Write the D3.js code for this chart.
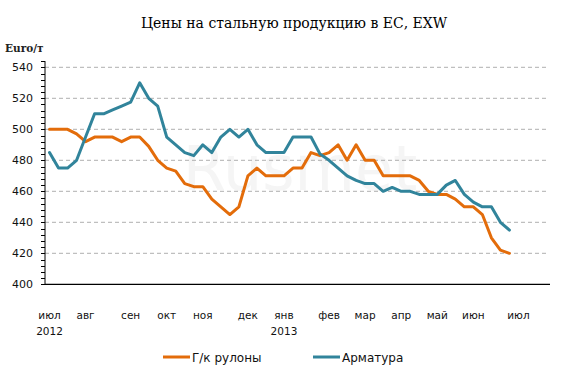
<!DOCTYPE html>
<html>
<head>
<meta charset="utf-8">
<script src="https://cdn.jsdelivr.net/npm/d3@7"></script>
<style>
  html, body { margin: 0; padding: 0; background: #fff; }
  svg { display: block; }
</style>
</head>
<body>
<svg id="chart" width="580" height="380"></svg>
<script>
// ---- Data ----
const title = "Цены на стальную продукцию в ЕС, EXW";
const unitLabel = "Euro/т";
const seriesNames = ["Г/к рулоны", "Арматура"];
// Weekly categories (56 slots), month labels at the first week of each month
const monthLabels = ["июл", "авг", "сен", "окт", "ноя", "дек", "янв", "фев", "мар", "апр", "май", "июн", "июл"];
const monthIndex = [0, 4, 9, 13, 17, 22, 26, 31, 35, 39, 43, 47, 52];
const yearLabels = ["2012", "2013"];
const yearIndex = [0, 26];
const categoryCount = 56;
const hotRolled = [500, 500, 500, 497, 492, 495, 495, 495, 492, 495, 495, 489, 480, 475, 473, 465, 463, 463, 455, 450,
                   445, 450, 470, 475, 470, 470, 470, 475, 475, 485, 483, 485, 490, 480, 490, 480, 480, 470, 470, 470,
                   470, 467, 460, 458, 458, 455, 450, 450, 445, 430, 422, 420];
const rebar = [485, 475, 475, 480, 495, 510, 510, 512.5, 515, 517.5, 530, 520, 515, 495, 490, 485, 483, 490, 485, 495,
               500, 495, 500, 490, 485, 485, 485, 495, 495, 495, 484, 480, 475, 470, 467, 465, 465, 460, 462.5, 460,
               460, 458, 458, 458, 464, 467, 458, 453, 450, 450, 440, 435];
const yTicks = [400, 420, 440, 460, 480, 500, 520, 540];

// ---- Layout ----
const svg = d3.select("#chart");
const plotLeft = 45, plotRight = 550, plotTop = 67.3, plotBottom = 284.3;
const colors = ["#E36C0A", "#31849B"];

const categories = d3.range(categoryCount);
const x = d3.scaleBand().domain(categories).range([plotLeft, plotRight]).padding(0);
const cx = i => x(i) + x.bandwidth() / 2;
const y = d3.scaleLinear().domain([400, 540]).range([plotBottom, plotTop]);

// Title
svg.append("text")
  .attr("x", 294).attr("y", 28)
  .attr("text-anchor", "middle")
  .style("font-family", "'DejaVu Serif', serif")
  .style("font-size", "14px")
  .attr("fill", "#000")
  .text(title);

svg.append("text")
  .attr("x", 5).attr("y", 52)
  .style("font-family", "'DejaVu Serif', serif")
  .style("font-size", "10.5px")
  .style("font-weight", "bold")
  .attr("fill", "#222")
  .text(unitLabel);

// Watermark (very faint)
svg.append("text")
  .attr("x", 300).attr("y", 190)
  .attr("text-anchor", "middle")
  .style("font-family", "'DejaVu Sans', sans-serif")
  .style("font-size", "62px")
  .attr("fill", "#f5f5f5")
  .text("Rusmet");

// Gridlines
svg.append("g")
  .selectAll("line")
  .data(yTicks.filter(d => d > 400))
  .join("line")
  .attr("x1", plotLeft).attr("x2", plotRight - 3)
  .attr("y1", d => y(d)).attr("y2", d => y(d))
  .attr("stroke", "#b0b0b0")
  .attr("stroke-width", 1)
  .attr("stroke-dasharray", "4,3");

// Y axis with major + minor ticks
const yAxisG = svg.append("g");
yAxisG.append("line")
  .attr("x1", plotLeft).attr("x2", plotLeft)
  .attr("y1", plotBottom).attr("y2", y(544))
  .attr("stroke", "#000").attr("stroke-width", 1);
yAxisG.selectAll("line.minor")
  .data(d3.range(400, 545, 4))
  .join("line")
  .attr("class", "minor")
  .attr("x1", plotLeft - 4).attr("x2", plotLeft)
  .attr("y1", d => Math.round(y(d)) + 0.5).attr("y2", d => Math.round(y(d)) + 0.5)
  .attr("stroke", "#000").attr("stroke-width", 1);
yAxisG.selectAll("text")
  .data(yTicks)
  .join("text")
  .attr("x", 33).attr("y", d => y(d) + 4)
  .attr("text-anchor", "end")
  .style("font-family", "'DejaVu Sans', sans-serif")
  .style("font-size", "11px")
  .attr("fill", "#111")
  .text(d => d);

// X axis line
svg.append("line")
  .attr("x1", plotLeft).attr("x2", plotRight)
  .attr("y1", plotBottom).attr("y2", plotBottom)
  .attr("stroke", "#000").attr("stroke-width", 1.3);

// Month labels
svg.append("g").selectAll("text")
  .data(monthLabels)
  .join("text")
  .attr("x", (d, i) => cx(monthIndex[i]))
  .attr("y", 319)
  .attr("text-anchor", "middle")
  .style("font-family", "'DejaVu Sans', sans-serif")
  .style("font-size", "10.5px")
  .attr("fill", "#111")
  .text(d => d);
svg.append("g").selectAll("text")
  .data(yearLabels)
  .join("text")
  .attr("x", (d, i) => cx(yearIndex[i]))
  .attr("y", 335)
  .attr("text-anchor", "middle")
  .style("font-family", "'DejaVu Sans', sans-serif")
  .style("font-size", "10.5px")
  .attr("fill", "#111")
  .text(d => d);

// Lines
const line = d3.line().x((d, i) => cx(i)).y(d => y(d));
[hotRolled, rebar].forEach((series, k) => {
  svg.append("path")
    .datum(series)
    .attr("d", line)
    .attr("fill", "none")
    .attr("stroke", colors[k])
    .attr("stroke-width", 3)
    .attr("stroke-linejoin", "round")
    .attr("stroke-linecap", "round");
});

// Legend
const legendX = [163, 313];
seriesNames.forEach((name, k) => {
  svg.append("line")
    .attr("x1", legendX[k]).attr("x2", legendX[k] + 27)
    .attr("y1", 357).attr("y2", 357)
    .attr("stroke", colors[k]).attr("stroke-width", 3);
  svg.append("text")
    .attr("x", legendX[k] + 29).attr("y", 362)
    .style("font-family", "'DejaVu Sans', sans-serif")
    .style("font-size", "12px")
    .attr("fill", "#111")
    .text(name);
});
</script>
</body>
</html>
